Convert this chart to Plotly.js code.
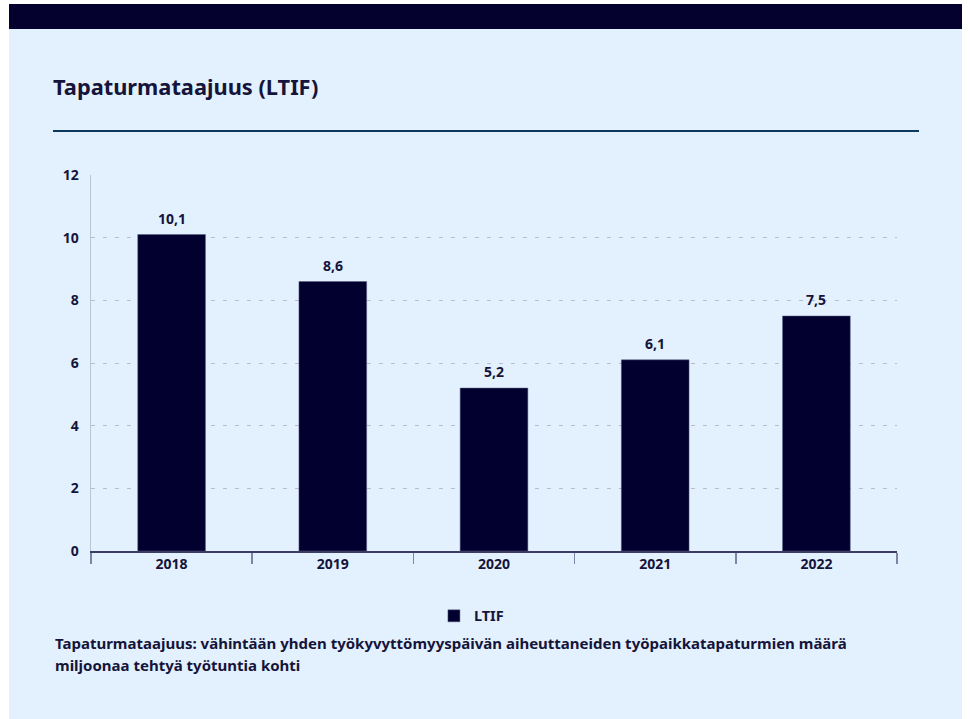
<!DOCTYPE html>
<html><head><meta charset="utf-8">
<script src="https://cdn.plot.ly/plotly-3.0.1.min.js"></script>
<style>
html,body{margin:0;padding:0;background:#ffffff;}
#panel{position:absolute;left:9px;top:4px;width:953px;height:715px;background:#e3f0fd;}
#topbar{position:absolute;left:9px;top:4px;width:953px;height:25px;background:#04012f;}
#rule{position:absolute;left:53px;top:130px;width:866px;height:2px;background:#0b3a5c;}
#chart{position:absolute;left:0;top:0;width:970px;height:719px;}
</style></head>
<body>
<div id="panel"></div><div id="topbar"></div><div id="rule"></div>
<div id="chart"></div>
<script>
const years = ['2018','2019','2020','2021','2022'];
const ltif = [10.1, 8.6, 5.2, 6.1, 7.5];
const ltifLabels = ['10,1','8,6','5,2','6,1','7,5'];
const seriesName = 'LTIF';
const chartTitle = 'Tapaturmataajuus (LTIF)';
const noteLine1 = 'Tapaturmataajuus: vähintään yhden työkyvyttömyyspäivän aiheuttaneiden työpaikkatapaturmien määrä';
const noteLine2 = 'miljoonaa tehtyä työtuntia kohti';

const txt = '#15143a';
const fam = 'Noto Sans, Open Sans, sans-serif';

const trace = {
  type:'bar', x: years, y: ltif, name: seriesName,
  marker:{color:'#02002e', line:{color:'#5a5f86', width:0.5}},
  hoverinfo:'skip'
};
const labelAnns = years.map((yr,i)=>({
  x: i, y: ltif[i], xref:'x', yref:'y', text:'<b>'+ltifLabels[i]+'</b>', showarrow:false,
  yanchor:'bottom', yshift:5, font:{family:fam, size:14, color:txt}
}));
const layout = {
  width:970, height:719,
  paper_bgcolor:'rgba(0,0,0,0)', plot_bgcolor:'rgba(0,0,0,0)',
  separators:', ',
  margin:{l:91, r:73, t:175, b:168},
  font:{family:fam, color:txt},
  title:{text:'<b>'+chartTitle+'</b>', xref:'container', yref:'container', x:53/970, xanchor:'left', y:1-80/719, yanchor:'top', font:{family:fam, size:21.8, color:txt}},
  bargap:0.58,
  xaxis:{type:'category', showgrid:false, showline:true, linecolor:'#3b3d63', linewidth:1.5,
    ticks:'outside', tickson:'boundaries', ticklen:11, tickcolor:'#7f84a4', tickwidth:1.5,
    tickfont:{family:fam, size:14, color:txt, weight:700}, fixedrange:true},
  yaxis:{range:[0,12], dtick:2, showline:true, linecolor:'#bcc4d4', linewidth:1.5,
    showgrid:true, gridcolor:'#b5bccb', griddash:'4px,8px', gridwidth:1, zeroline:false,
    ticks:'', ticklabelstandoff:8,
    tickfont:{family:fam, size:14, color:txt, weight:700}, fixedrange:true},
  showlegend:true,
  legend:{orientation:'h', x:0.472, xanchor:'center', y:-0.13, yanchor:'top', bgcolor:'rgba(0,0,0,0)',
    font:{family:fam, size:14.5, color:txt, weight:700}},
  annotations: labelAnns.concat([
    {text:'<b>'+noteLine1+'</b>', xref:'paper', yref:'paper', x:(53-91)/806, xanchor:'left', y:(551-631)/376, yanchor:'top', showarrow:false, font:{family:fam, size:15, color:txt}},
    {text:'<b>'+noteLine2+'</b>', xref:'paper', yref:'paper', x:(53-91)/806, xanchor:'left', y:(551-653)/376, yanchor:'top', showarrow:false, font:{family:fam, size:15, color:txt}}
  ])
};
Plotly.newPlot('chart',[trace],layout,{displayModeBar:false, staticPlot:true});
</script>
</body></html>
